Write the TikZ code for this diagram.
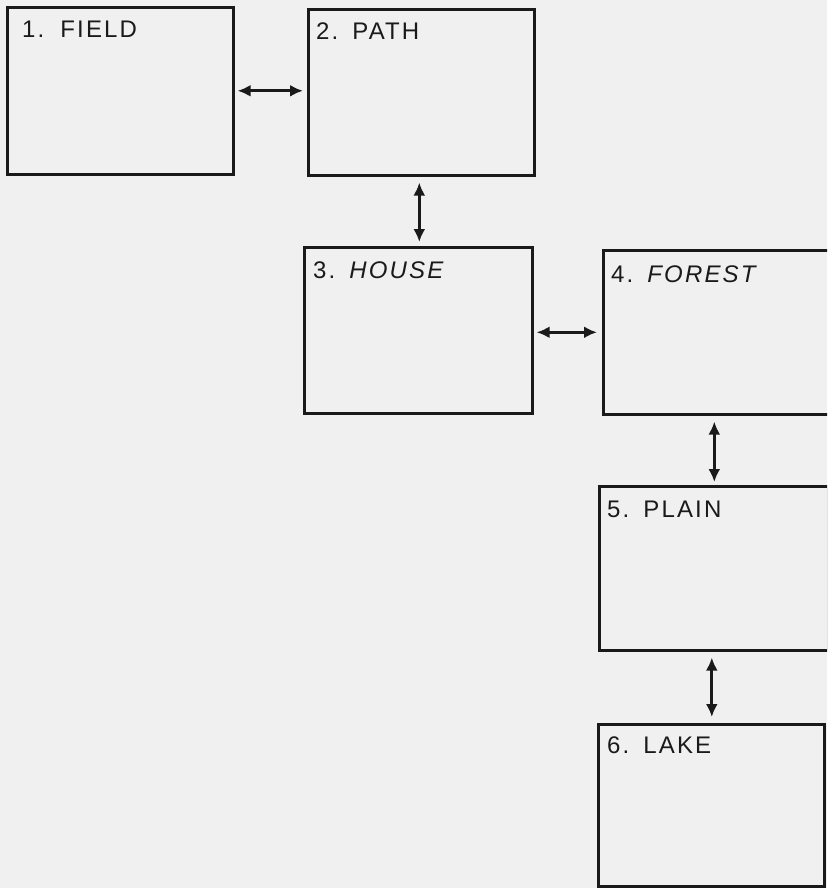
\documentclass[tikz,border=0pt]{standalone}
\usepackage{fontspec}
\setmainfont{Liberation Sans}[LetterSpace=9]
\usetikzlibrary{arrows.meta}
\definecolor{paper}{HTML}{F0F0F0}
\definecolor{ink}{HTML}{1A1A1A}
\tikzset{
  box/.style={draw=ink,line width=2.6pt,rectangle,anchor=north west,inner sep=0pt},
  lbl/.style={anchor=base west,inner sep=0pt,text=ink,font=\fontsize{24}{28}\selectfont},
  tip/.tip={Latex[length=13pt,width=12pt]},
  link/.style={draw=ink,line width=3pt,tip-tip}
}
\begin{document}
\begin{tikzpicture}[x=1pt,y=-1pt]
\fill[paper] (0,0) rectangle (827,888);
\useasboundingbox (0,0) rectangle (827,888);
\clip (0,0) rectangle (827,888);
\node[box,minimum width=226pt,minimum height=167pt] (field) at (6,6) {};
\node[box,minimum width=226pt,minimum height=166pt] (path) at (307,8) {};
\node[box,minimum width=228pt,minimum height=166pt] (house) at (303,246) {};
\node[box,minimum width=226pt,minimum height=164pt] (forest) at (602,249) {};
\node[box,minimum width=229pt,minimum height=164pt] (plain) at (598,485) {};
\node[box,minimum width=226pt,minimum height=162pt] (lake) at (597,723) {};
\node[lbl] (t1) at (22,38) {1.\hspace{16pt}FIELD};
\node[lbl] (t2) at (316,40) {2.\hspace{14pt}PATH};
\node[lbl] (t3) at (313,278) {3.\hspace{14pt}\textit{HOUSE}};
\node[lbl] (t4) at (611,282) {4.\hspace{14pt}\textit{FOREST}};
\node[lbl] (t5) at (607,517) {5.\hspace{14pt}PLAIN};
\node[lbl] (t6) at (607,753) {6.\hspace{14pt}LAKE};
\draw[link,shorten <=3pt,shorten >=4pt] (field.east) -- (path.west |- field.east);
\draw[link,shorten <=6pt,shorten >=4pt] ([xshift=-2pt]path.south) -- ([xshift=-2pt]path.south |- house.north);
\draw[link,shorten <=3pt,shorten >=5pt] (house.east |- forest.west) -- (forest.west);
\draw[link,shorten <=6pt,shorten >=3pt] ([xshift=-2pt]forest.south) -- ([xshift=-2pt]forest.south |- plain.north);
\draw[link,shorten <=6pt,shorten >=6pt] ([xshift=-2pt]plain.south) -- ([xshift=-2pt]plain.south |- lake.north);
\end{tikzpicture}
\end{document}
